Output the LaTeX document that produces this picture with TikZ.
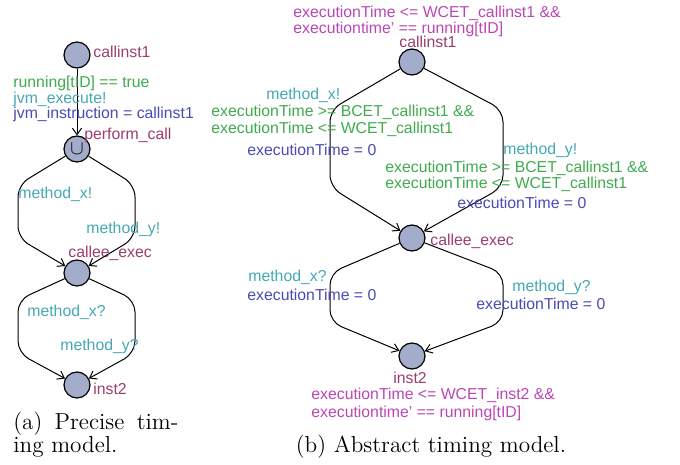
\documentclass[tikz,border=0pt]{standalone}
\usepackage{fontspec}
\newfontfamily\uppfont{Liberation Sans}
\usepackage{tikz}
\usetikzlibrary{arrows.meta}
\definecolor{clocn}{HTML}{9C3D6E}
\definecolor{cinv}{HTML}{B946B5}
\definecolor{cgrd}{HTML}{3FAA4F}
\definecolor{csync}{HTML}{45A8B5}
\definecolor{cass}{HTML}{4A4AB5}
\definecolor{cloc}{HTML}{A3ACCB}
\tikzset{
  loc/.style={circle, draw, fill=cloc, line width=0.6pt, minimum size=13pt, inner sep=0pt},
  edge/.style={-{Straight Barb[length=3.2pt,width=4.6pt]}, line width=0.5pt, rounded corners=6pt},
  lbl/.style={font=\uppfont\fontsize{7.9}{8}\selectfont, inner sep=0pt, anchor=west},
  nm/.style={lbl, text=clocn},
  inv/.style={lbl, text=cinv},
  grd/.style={lbl, text=cgrd},
  snc/.style={lbl, text=csync},
  asg/.style={lbl, text=cass},
  captxt/.style={font=\fontsize{11.6}{12}\selectfont, inner sep=0pt},
}
\begin{document}
\begin{tikzpicture}[x=0.5pt, y=-0.5pt]
\useasboundingbox (0,0) rectangle (680,465);
% (a) precise model
\node[loc] (c1) at (77,55) {};
\node[loc] (pc) at (77,149) {\raisebox{-0.5pt}{$\cup$}};
\node[loc] (ce) at (77,273) {};
\node[loc] (i2) at (77,385) {};
\node[nm] (c1n) at (93,52) {callinst1};
\node[nm] (pcn) at (84,135) {perform\_call};
\node[nm] (cen) at (68,253) {callee\_exec};
\node[nm] (i2n) at (93,389) {inst2};
\draw[edge] (c1) -- (pc);
\node[grd] (g1) at (13,83) {running[tID] == true};
\node[snc] (s1) at (13,99) {jvm\_execute!};
\node[asg] (a1) at (13,114) {jvm\_instruction = callinst1};
\draw[edge] (pc) -- (18,185) -- (18,238) -- (ce);
\draw[edge] (pc) -- (135,185) -- (135,238) -- (ce);
\node[snc] (s2) at (18,194) {method\_x!};
\node[snc] (s3) at (86,229) {method\_y!};
\draw[edge] (ce) -- (18,300) -- (18,353) -- (i2);
\draw[edge] (ce) -- (135,300) -- (135,353) -- (i2);
\node[snc] (s4) at (27,312) {method\_x?};
\node[snc] (s5) at (60,346) {method\_y?};
\node[captxt, anchor=west] (capa1) at (13,424) {\makebox[82.5pt][s]{(a) Precise tim-}};
\node[captxt, anchor=west] (capa2) at (13,447) {ing model.};
% (b) abstract model
\node[loc] (ac1) at (412,62) {};
\node[loc] (ace) at (412,238) {};
\node[loc] (ai2) at (412,356) {};
\node[inv] (v1) at (293,13) {executionTime <= WCET\_callinst1 \&\&};
\node[inv] (v2) at (293,29) {executiontime’ == running[tID]};
\node[nm, anchor=center] (ac1n) at (428,42) {callinst1};
\node[nm] (acen) at (430,241) {callee\_exec};
\node[nm, anchor=center] (ai2n) at (410,378) {inst2};
\node[inv] (v3) at (311,395) {executionTime <= WCET\_inst2 \&\&};
\node[inv] (v4) at (311,413) {executiontime’ == running[tID]};
\draw[edge] (ac1) -- (330,110) -- (330,187) -- (ace);
\draw[edge] (ac1) -- (503,110) -- (503,187) -- (ace);
\node[snc] (s6) at (266,95) {method\_x!};
\node[grd] (g2) at (211,112) {executionTime >= BCET\_callinst1 \&\&};
\node[grd] (g3) at (211,129) {executionTime <= WCET\_callinst1};
\node[asg] (a2) at (247,150) {executionTime = 0};
\node[snc] (s7) at (503,150) {method\_y!};
\node[grd] (g4) at (385,168) {executionTime >= BCET\_callinst1 \&\&};
\node[grd] (g5) at (385,184) {executionTime <= WCET\_callinst1};
\node[asg] (a3) at (457,203) {executionTime = 0};
\draw[edge] (ace) -- (330,273) -- (330,322) -- (ai2);
\draw[edge] (ace) -- (503,273) -- (503,322) -- (ai2);
\node[snc] (s8) at (248,277) {method\_x?};
\node[asg] (a4) at (247,295) {executionTime = 0};
\node[snc] (s9) at (512,287) {method\_y?};
\node[asg] (a5) at (476,304) {executionTime = 0};
\node[captxt] (capb) at (431,447) {(b) Abstract timing model.};
\end{tikzpicture}
\end{document}
